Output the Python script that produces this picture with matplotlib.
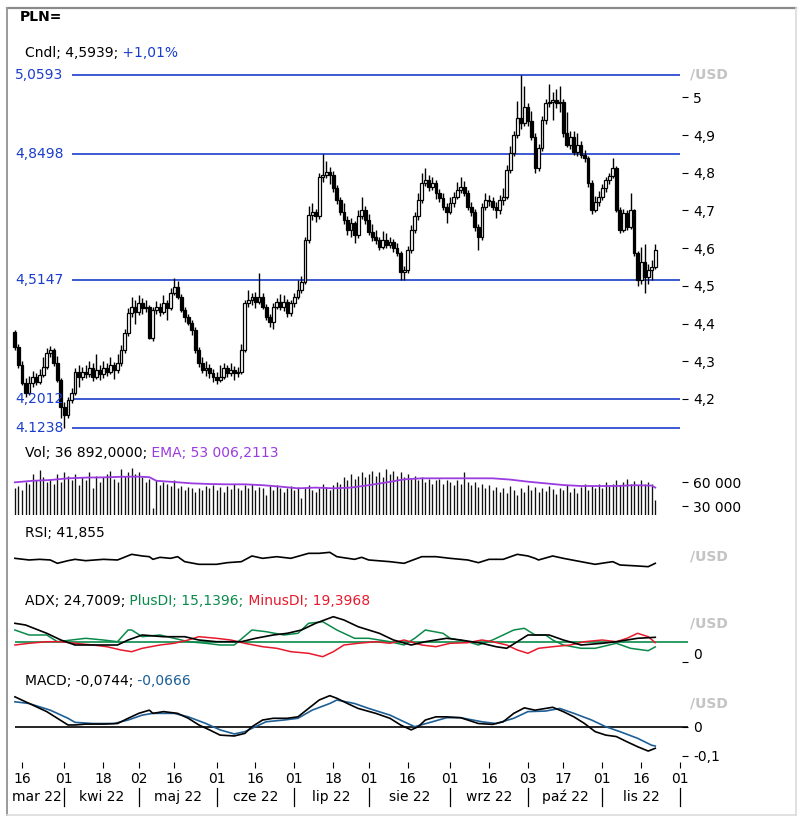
import numpy as np
import pandas as pd
import matplotlib
matplotlib.use("Agg")
import matplotlib.pyplot as plt
from matplotlib.transforms import blended_transform_factory
from matplotlib.lines import Line2D

plt.rcParams['font.family'] = ['DejaVu Sans']
plt.rcParams['font.size'] = 10

# ---------------- data ----------------
first_day = '2022-03-14'
axis_end_day = '2022-12-01'

open_ = [4.378, 4.338, 4.290, 4.242, 4.216, 4.242, 4.258, 4.245, 4.264, 4.285,
         4.322, 4.330, 4.295, 4.250, 4.179, 4.157, 4.197, 4.216, 4.272, 4.258,
         4.272, 4.266, 4.282, 4.258, 4.277, 4.266, 4.282, 4.272, 4.290, 4.277,
         4.295, 4.330, 4.375, 4.428, 4.444, 4.431, 4.454, 4.441, 4.444, 4.362,
         4.436, 4.444, 4.431, 4.454, 4.441, 4.481, 4.498, 4.471, 4.436, 4.418,
         4.401, 4.383, 4.330, 4.295, 4.277, 4.282, 4.268, 4.259, 4.250, 4.259,
         4.282, 4.268, 4.277, 4.268, 4.272, 4.330, 4.454, 4.462, 4.471, 4.458,
         4.471, 4.445, 4.418, 4.405, 4.445, 4.458, 4.445, 4.458, 4.427, 4.454,
         4.471, 4.489, 4.511, 4.622, 4.688, 4.697, 4.684, 4.790, 4.794, 4.803,
         4.795, 4.760, 4.728, 4.697, 4.675, 4.648, 4.666, 4.635, 4.684, 4.701,
         4.675, 4.644, 4.630, 4.622, 4.604, 4.622, 4.608, 4.617, 4.600, 4.586,
         4.538, 4.542, 4.595, 4.648, 4.684, 4.728, 4.772, 4.781, 4.763, 4.772,
         4.746, 4.732, 4.710, 4.697, 4.719, 4.737, 4.754, 4.763, 4.746, 4.710,
         4.697, 4.657, 4.630, 4.710, 4.728, 4.724, 4.710, 4.701, 4.728, 4.737,
         4.807, 4.852, 4.900, 4.944, 4.931, 4.975, 4.936, 4.896, 4.812, 4.865,
         4.940, 4.984, 4.989, 4.993, 4.984, 4.989, 4.905, 4.874, 4.896, 4.856,
         4.874, 4.847, 4.838, 4.772, 4.701, 4.723, 4.737, 4.759, 4.781, 4.792,
         4.812, 4.701, 4.648, 4.693, 4.657, 4.701, 4.586, 4.516, 4.564, 4.524,
         4.542, 4.551]

close = [4.338, 4.290, 4.242, 4.216, 4.242, 4.258, 4.245, 4.264, 4.285, 4.322,
         4.330, 4.295, 4.250, 4.179, 4.157, 4.197, 4.216, 4.272, 4.258, 4.272,
         4.266, 4.282, 4.258, 4.277, 4.266, 4.282, 4.272, 4.290, 4.277, 4.295,
         4.330, 4.375, 4.428, 4.444, 4.431, 4.454, 4.441, 4.444, 4.362, 4.436,
         4.444, 4.431, 4.454, 4.441, 4.481, 4.498, 4.471, 4.436, 4.418, 4.401,
         4.383, 4.330, 4.295, 4.277, 4.282, 4.268, 4.259, 4.250, 4.259, 4.282,
         4.268, 4.277, 4.268, 4.272, 4.330, 4.454, 4.462, 4.471, 4.458, 4.471,
         4.445, 4.418, 4.405, 4.445, 4.458, 4.445, 4.458, 4.427, 4.454, 4.471,
         4.489, 4.511, 4.622, 4.688, 4.697, 4.684, 4.790, 4.794, 4.803, 4.795,
         4.760, 4.728, 4.697, 4.675, 4.648, 4.666, 4.635, 4.684, 4.701, 4.675,
         4.644, 4.630, 4.622, 4.604, 4.622, 4.608, 4.617, 4.600, 4.586, 4.538,
         4.542, 4.595, 4.648, 4.684, 4.728, 4.772, 4.781, 4.763, 4.772, 4.746,
         4.732, 4.710, 4.697, 4.719, 4.737, 4.754, 4.763, 4.746, 4.710, 4.697,
         4.657, 4.630, 4.710, 4.728, 4.724, 4.710, 4.701, 4.728, 4.737, 4.807,
         4.852, 4.900, 4.944, 4.931, 4.975, 4.936, 4.896, 4.812, 4.865, 4.940,
         4.984, 4.989, 4.993, 4.984, 4.989, 4.905, 4.874, 4.896, 4.856, 4.874,
         4.847, 4.838, 4.772, 4.701, 4.723, 4.737, 4.759, 4.781, 4.792, 4.812,
         4.701, 4.648, 4.693, 4.657, 4.701, 4.586, 4.516, 4.564, 4.524, 4.542,
         4.551, 4.5939]

high = [4.383, 4.345, 4.300, 4.255, 4.262, 4.275, 4.270, 4.280, 4.310, 4.335,
        4.340, 4.336, 4.315, 4.256, 4.192, 4.205, 4.228, 4.282, 4.290, 4.285,
        4.290, 4.300, 4.295, 4.318, 4.290, 4.300, 4.295, 4.310, 4.298, 4.318,
        4.342, 4.385, 4.440, 4.470, 4.462, 4.475, 4.468, 4.462, 4.450, 4.445,
        4.460, 4.455, 4.475, 4.462, 4.495, 4.520, 4.512, 4.478, 4.445, 4.425,
        4.410, 4.392, 4.338, 4.312, 4.300, 4.292, 4.280, 4.272, 4.290, 4.295,
        4.290, 4.295, 4.288, 4.285, 4.345, 4.462, 4.490, 4.482, 4.485, 4.535,
        4.480, 4.452, 4.425, 4.455, 4.468, 4.478, 4.475, 4.465, 4.462, 4.482,
        4.515, 4.525, 4.630, 4.712, 4.720, 4.705, 4.800, 4.8498, 4.830, 4.815,
        4.805, 4.768, 4.735, 4.720, 4.685, 4.680, 4.672, 4.700, 4.735, 4.712,
        4.690, 4.665, 4.648, 4.630, 4.645, 4.640, 4.630, 4.625, 4.615, 4.592,
        4.552, 4.605, 4.662, 4.695, 4.745, 4.800, 4.812, 4.795, 4.790, 4.780,
        4.758, 4.745, 4.720, 4.735, 4.748, 4.775, 4.790, 4.778, 4.755, 4.722,
        4.705, 4.665, 4.720, 4.745, 4.740, 4.735, 4.722, 4.740, 4.760, 4.820,
        4.870, 4.912, 4.990, 5.0593, 5.030, 4.985, 4.965, 4.905, 4.875, 4.950,
        4.995, 5.035, 5.015, 5.022, 5.030, 4.995, 4.960, 4.910, 4.910, 4.905,
        4.885, 4.860, 4.845, 4.780, 4.738, 4.752, 4.770, 4.790, 4.800, 4.840,
        4.818, 4.710, 4.705, 4.700, 4.745, 4.705, 4.592, 4.602, 4.610, 4.558,
        4.568, 4.610]

low = [4.330, 4.282, 4.236, 4.205, 4.210, 4.232, 4.238, 4.240, 4.258, 4.280,
       4.312, 4.288, 4.245, 4.150, 4.1238, 4.150, 4.190, 4.210, 4.232, 4.250,
       4.255, 4.258, 4.248, 4.252, 4.250, 4.255, 4.262, 4.265, 4.252, 4.270,
       4.288, 4.322, 4.368, 4.418, 4.400, 4.422, 4.425, 4.430, 4.358, 4.355,
       4.425, 4.420, 4.425, 4.410, 4.435, 4.475, 4.465, 4.430, 4.405, 4.395,
       4.370, 4.322, 4.285, 4.268, 4.262, 4.255, 4.245, 4.240, 4.245, 4.252,
       4.258, 4.262, 4.250, 4.258, 4.265, 4.325, 4.445, 4.450, 4.440, 4.452,
       4.438, 4.410, 4.392, 4.385, 4.438, 4.435, 4.432, 4.418, 4.420, 4.445,
       4.465, 4.480, 4.505, 4.615, 4.675, 4.670, 4.678, 4.775, 4.785, 4.770,
       4.750, 4.718, 4.688, 4.665, 4.635, 4.630, 4.615, 4.628, 4.678, 4.665,
       4.635, 4.620, 4.610, 4.595, 4.598, 4.600, 4.600, 4.590, 4.578, 4.515,
       4.515, 4.535, 4.588, 4.640, 4.675, 4.720, 4.765, 4.752, 4.755, 4.730,
       4.722, 4.700, 4.668, 4.690, 4.710, 4.730, 4.745, 4.738, 4.700, 4.685,
       4.645, 4.595, 4.622, 4.700, 4.712, 4.700, 4.680, 4.690, 4.715, 4.730,
       4.800, 4.845, 4.892, 4.915, 4.925, 4.925, 4.888, 4.800, 4.805, 4.858,
       4.930, 4.975, 4.940, 4.972, 4.960, 4.895, 4.868, 4.862, 4.848, 4.845,
       4.838, 4.828, 4.762, 4.690, 4.695, 4.712, 4.728, 4.748, 4.770, 4.785,
       4.695, 4.640, 4.642, 4.648, 4.650, 4.578, 4.500, 4.505, 4.481, 4.505,
       4.515, 4.545]

volume = [52000, 55000, 50000, 60000, 58000, 70000, 62000, 75000, 66000, 60000,
          64000, 58000, 70000, 60000, 72000, 68000, 62000, 70000, 56000, 66000,
          62000, 72000, 52000, 68000, 60000, 66000, 70000, 74000, 64000, 60000,
          76000, 68000, 72000, 78000, 70000, 72000, 66000, 60000, 64000, 27000,
          62000, 56000, 60000, 58000, 55000, 62000, 52000, 55000, 50000, 54000,
          52000, 48000, 53000, 50000, 55000, 52000, 56000, 50000, 54000, 48000,
          55000, 51000, 57000, 53000, 50000, 56000, 52000, 58000, 50000, 54000,
          52000, 44000, 55000, 50000, 56000, 53000, 47000, 52000, 55000, 50000,
          54000, 40000, 52000, 56000, 50000, 48000, 52000, 58000, 54000, 50000,
          56000, 60000, 58000, 66000, 62000, 70000, 64000, 68000, 72000, 66000,
          70000, 74000, 68000, 72000, 66000, 76000, 70000, 74000, 68000, 72000,
          66000, 70000, 64000, 68000, 62000, 66000, 60000, 64000, 58000, 62000,
          64000, 58000, 62000, 60000, 56000, 62000, 58000, 72000, 60000, 56000,
          60000, 54000, 58000, 52000, 56000, 50000, 54000, 48000, 52000, 46000,
          55000, 50000, 44000, 52000, 48000, 56000, 50000, 54000, 47000, 52000,
          49000, 55000, 51000, 45000, 53000, 50000, 56000, 48000, 52000, 46000,
          54000, 58000, 50000, 55000, 52000, 57000, 53000, 60000, 55000, 58000,
          62000, 56000, 60000, 64000, 58000, 61000, 56000, 63000, 58000, 60000,
          57000, 36892]

ema_day = [0, 5, 10, 15, 20, 25, 30, 35, 38, 40, 45, 50, 55, 60, 65, 70, 75, 80, 85,
           90, 95, 100, 105, 110, 115, 120, 125, 130, 135, 140, 145, 150, 155, 160,
           165, 170, 175, 180, 181]
ema_val = [59600, 61500, 62500, 64600, 65500, 65800, 66500, 66700, 66000, 61500, 60000,
           58300, 57500, 57100, 57100, 56000, 54200, 52100, 53000, 52100, 53000, 56000,
           59500, 63300, 64600, 64600, 64600, 64600, 64600, 63000, 60400, 58300, 56200,
           55000, 55000, 55000, 56000, 55500, 53006.2113]

rsi_day = [0, 4, 7, 10, 12, 15, 17, 20, 25, 29, 33, 36, 38, 39, 41, 44, 46, 48, 52, 57,
           60, 64, 67, 70, 74, 78, 83, 86, 89, 91, 96, 98, 100, 106, 110, 115, 119, 123,
           128, 131, 134, 138, 142, 145, 147, 148, 152, 155, 160, 164, 167, 169, 171,
           176, 179, 181]
rsi_val = [51.8, 48.5, 49.8, 48.5, 41.8, 47.1, 49.8, 47.1, 49.8, 48.5, 59.8, 56.5, 55.1,
           49.8, 53.8, 51.8, 55.1, 45.1, 39.8, 39.8, 43.1, 45.1, 56.5, 51.8, 55.1, 51.8,
           61.8, 61.8, 63.8, 55.1, 49.8, 53.8, 48.5, 45.1, 41.8, 55.1, 55.1, 51.8, 48.5,
           43.1, 49.8, 49.8, 59.8, 56.5, 51.8, 48.5, 56.5, 51.8, 45.1, 39.8, 43.1, 45.1,
           38.5, 36.5, 35.1, 41.855]

adx_day = [0, 3, 9, 13, 17, 29, 32, 36, 42, 48, 52, 57, 64, 68, 73, 77, 81, 85, 90, 93,
           97, 103, 107, 112, 116, 122, 126, 132, 136, 139, 142, 145, 151, 155, 160, 166,
           170, 176, 181]
adx_val = [38.7, 37.0, 28.7, 22.0, 17.0, 17.0, 22.0, 27.0, 25.3, 25.3, 22.0, 20.3, 20.3,
           23.7, 27.0, 28.7, 32.0, 38.7, 45.3, 42.0, 35.3, 28.7, 22.0, 17.0, 20.3, 23.7,
           22.0, 18.7, 15.3, 13.7, 20.3, 27.0, 27.0, 22.0, 17.0, 18.7, 20.3, 23.7, 24.7009]

pdi_day = [0, 4, 9, 12, 16, 20, 25, 29, 32, 33, 36, 41, 45, 49, 54, 58, 62, 67, 71, 76,
           80, 83, 87, 91, 96, 100, 106, 110, 113, 116, 121, 123, 128, 131, 135, 138,
           141, 144, 147, 150, 152, 155, 160, 164, 170, 174, 179, 181]
pdi_val = [32.0, 27.0, 27.0, 20.3, 22.0, 23.7, 22.0, 20.3, 32.0, 32.0, 25.3, 27.0, 23.7,
           20.3, 18.7, 17.0, 17.0, 32.0, 30.3, 27.0, 28.7, 38.7, 40.3, 32.0, 23.7, 23.7,
           20.3, 17.0, 23.7, 32.0, 28.7, 23.7, 20.3, 17.0, 22.0, 27.0, 32.0, 33.7, 27.0,
           27.0, 22.0, 17.0, 13.7, 13.7, 18.7, 13.7, 11.3, 15.1396]

mdi_day = [0, 4, 9, 13, 17, 22, 26, 30, 33, 36, 41, 45, 49, 52, 57, 61, 65, 70, 74, 78,
           83, 87, 90, 93, 97, 102, 106, 110, 115, 119, 123, 128, 132, 135, 139, 142,
           145, 148, 152, 157, 161, 166, 170, 173, 176, 179, 181]
mdi_val = [17.0, 18.7, 20.3, 20.3, 18.7, 17.0, 15.3, 12.0, 10.3, 13.7, 17.0, 18.7, 22.0,
           25.3, 23.7, 22.0, 18.7, 15.3, 13.7, 10.3, 8.7, 5.3, 10.3, 17.0, 18.7, 20.3,
           18.7, 22.0, 17.0, 15.3, 18.7, 19.3, 22.0, 20.3, 17.0, 12.0, 8.7, 13.7, 15.3,
           17.0, 20.3, 22.0, 20.3, 23.7, 28.7, 25.3, 19.3968]

macd_day = [0, 3, 6, 9, 12, 15, 17, 20, 25, 29, 32, 35, 38, 39, 42, 46, 49, 52, 55, 58,
            62, 65, 67, 70, 73, 77, 80, 83, 86, 89, 91, 94, 97, 102, 106, 109, 112, 114,
            116, 119, 122, 126, 131, 135, 138, 141, 144, 147, 150, 152, 155, 158, 161,
            164, 167, 170, 173, 176, 179, 181]
macd_val = [0.103, 0.086, 0.069, 0.052, 0.029, 0.006, 0.006, 0.009, 0.009, 0.011, 0.029,
            0.046, 0.057, 0.046, 0.052, 0.046, 0.029, 0.006, -0.011, -0.029, -0.032,
            -0.023, 0.000, 0.023, 0.029, 0.029, 0.034, 0.063, 0.092, 0.107, 0.098, 0.080,
            0.063, 0.046, 0.029, 0.006, -0.011, 0.000, 0.023, 0.034, 0.034, 0.031, 0.011,
            0.008, 0.017, 0.046, 0.065, 0.057, 0.063, 0.067, 0.052, 0.034, 0.011, -0.017,
            -0.029, -0.034, -0.052, -0.069, -0.084, -0.0744]

sig_day = [0, 4, 10, 15, 17, 22, 28, 32, 36, 39, 45, 49, 54, 58, 62, 65, 68, 71, 76, 80,
           84, 89, 91, 96, 100, 106, 110, 113, 118, 122, 126, 132, 136, 141, 145, 150,
           154, 158, 163, 167, 171, 176, 180, 181]
sig_val = [0.086, 0.080, 0.057, 0.029, 0.015, 0.011, 0.011, 0.023, 0.040, 0.046, 0.046,
           0.034, 0.011, -0.011, -0.025, -0.017, 0.000, 0.017, 0.023, 0.029, 0.057, 0.080,
           0.092, 0.080, 0.063, 0.040, 0.017, 0.000, 0.017, 0.031, 0.031, 0.017, 0.011,
           0.029, 0.052, 0.054, 0.063, 0.046, 0.023, 0.000, -0.017, -0.040, -0.064,
           -0.0666]

levels = [5.0593, 4.8498, 4.5147, 4.2012, 4.1238]
level_labels = ['5,0593', '4,8498', '4,5147', '4,2012', '4.1238']

price_ticks = [4.2, 4.3, 4.4, 4.5, 4.6, 4.7, 4.8, 4.9, 5.0]
price_tick_labels = ['4,2', '4,3', '4,4', '4,5', '4,6', '4,7', '4,8', '4,9', '5']
vol_ticks = [30000, 60000]
vol_tick_labels = ['30 000', '60 000']
adx_ref = 20
macd_ticks = [-0.1, 0.0]
macd_tick_labels = ['-0,1', '0']

tick_dates = ['2022-03-16', '2022-04-01', '2022-04-18', '2022-05-02', '2022-05-16',
              '2022-06-01', '2022-06-16', '2022-07-01', '2022-07-18', '2022-08-01',
              '2022-08-16', '2022-09-01', '2022-09-16', '2022-10-03', '2022-10-17',
              '2022-11-01', '2022-11-16', '2022-12-01']
tick_labels = ['16', '01', '18', '02', '16', '01', '16', '01', '18', '01', '16', '01',
               '16', '03', '17', '01', '16', '01']
month_names = ['mar 22', 'kwi 22', 'maj 22', 'cze 22', 'lip 22', 'sie 22', 'wrz 22',
               'paź 22', 'lis 22']

title = 'PLN='
cndl_text = ['Cndl; 4,5939;', ' +1,01%']
vol_text = ['Vol; 36 892,0000;', ' EMA; 53 006,2113']
rsi_text = ['RSI; 41,855']
adx_text = ['ADX; 24,7009;', ' PlusDI; 15,1396;', ' MinusDI; 19,3968']
macd_text = ['MACD; -0,0744;', ' -0,0666']

# ---------------- colours ----------------
BLUE = '#1a3dcc'
PURPLE = '#9b3ce0'
GREEN = '#0a8a4a'
RED = '#e8192c'
SIGBLUE = '#1d5f96'
GREY = '#c4c4c4'

# ---------------- figure ----------------
days_all = pd.bdate_range(first_day, axis_end_day)
n = len(close)
xd = np.arange(n)
W, H = 802, 821
fig = plt.figure(figsize=(W / 100, H / 100), dpi=100)
fig.patch.set_facecolor('white')


def box(x0, y0, x1, y1):
    return [x0 / W, 1 - y1 / H, (x1 - x0) / W, (y1 - y0) / H]


def fx(p):
    return p / W


def fy(p):
    return 1 - p / H


XL = (-1.385, 188.55)


def style(ax, ylim):
    ax.set_xlim(*XL)
    ax.set_ylim(*ylim)
    for s in ax.spines.values():
        s.set_visible(False)
    ax.set_xticks([])
    ax.yaxis.tick_right()
    ax.tick_params(axis='y', direction='out', length=4, width=0.8, pad=4,
                   labelsize=10, colors='black')
    ax.patch.set_alpha(0)


def multi_text(xp, yp, parts, colors, weight='normal'):
    t = fig.text(fx(xp), fy(yp), parts[0], color=colors[0], ha='left', va='center',
                 fontsize=10, fontweight=weight)
    prev = t
    for s, c in zip(parts[1:], colors[1:]):
        prev = ax_p.annotate(s, xy=(1, 0), xycoords=prev, ha='left', va='bottom',
                             color=c, fontsize=10, annotation_clip=False)
    return t


# main price panel
ax_p = fig.add_axes(box(10, 70, 682, 433))
style(ax_p, (4.1097, 5.07256))
ax_p.set_yticks(price_ticks, price_tick_labels)
o = np.array(open_)
c = np.array(close)
ax_p.vlines(xd, low, high, color='black', lw=1.0, zorder=2)
body_bottom = np.minimum(o, c)
body_h = np.maximum(np.abs(c - o), 0.002)
body_col = ['white' if cc >= oo else 'black' for oo, cc in zip(o, c)]
ax_p.bar(xd, body_h, width=0.8, bottom=body_bottom, color=body_col,
         edgecolor='black', linewidth=0.9, zorder=3)
ax_p.hlines(levels, (72 - 10) / 672, (680 - 10) / 672, transform=ax_p.get_yaxis_transform(),
            color=BLUE, lw=1.2, zorder=1, clip_on=False)
for lv, lab in zip(levels, level_labels):
    ax_p.text((15 - 10) / 672, lv, lab, transform=ax_p.get_yaxis_transform(), color=BLUE,
              fontsize=10, ha='left', va='center', zorder=4, clip_on=False)

# volume panel
ax_v = fig.add_axes(box(10, 462, 682, 515))
style(ax_v, (18750, 85000))
ax_v.set_yticks(vol_ticks, vol_tick_labels)
ax_v.vlines(xd, 0, volume, color='#111111', lw=0.95)
ax_v.plot(ema_day, ema_val, color=PURPLE, lw=1.3)

# RSI panel
ax_r = fig.add_axes(box(10, 540, 682, 590))
style(ax_r, (-11.545, 88.455))
ax_r.set_yticks([])
ax_r.plot(rsi_day, rsi_val, color='black', lw=1.2)

# ADX panel
ax_a = fig.add_axes(box(10, 608, 682, 662))
style(ax_a, (0, 54))
ax_a.set_yticks([0], ['0'], va='bottom')
ax_a.hlines(adx_ref, (15 - 10) / 672, (688 - 10) / 672, transform=ax_a.get_yaxis_transform(),
            color=GREEN, lw=1.2, clip_on=False)
ax_a.plot(pdi_day, pdi_val, color=GREEN, lw=1.1)
ax_a.plot(mdi_day, mdi_val, color=RED, lw=1.1)
ax_a.plot(adx_day, adx_val, color='black', lw=1.2)

# MACD panel
ax_m = fig.add_axes(box(10, 688, 682, 762))
style(ax_m, (-0.12172, 0.13345))
ax_m.set_yticks(macd_ticks, macd_tick_labels)
ax_m.hlines(0, (15 - 10) / 672, (688 - 10) / 672, transform=ax_m.get_yaxis_transform(),
            color='black', lw=1.2, clip_on=False)
ax_m.plot(sig_day, sig_val, color=SIGBLUE, lw=1.2)
ax_m.plot(macd_day, macd_val, color='black', lw=1.2)

# x axis
tick_pos = [days_all.get_loc(pd.Timestamp(d)) for d in tick_dates]
ax_m.set_xticks(tick_pos, tick_labels)
ax_m.tick_params(axis='x', direction='out', length=4, width=0.8, pad=3, labelsize=10)
months = days_all.to_period('M')
sep_pos = [i for i in range(1, len(days_all)) if months[i] != months[i - 1]]
trans = blended_transform_factory(ax_m.transData, fig.transFigure)
for sp in sep_pos:
    ax_m.add_line(Line2D([sp, sp], [fy(788), fy(806)], transform=trans, color='black',
                         lw=0.9, clip_on=False))
bounds = [XL[0]] + sep_pos
for k, name in enumerate(month_names):
    xc = (bounds[k] + bounds[k + 1]) / 2
    ax_m.text(xc, fy(797), name, transform=trans, ha='center', va='center', fontsize=10,
              clip_on=False)

# panel labels
fig.text(fx(20), fy(17), title, fontsize=10, fontweight='bold', ha='left', va='center')
multi_text(25, 53, cndl_text, ['black', BLUE])
multi_text(25, 453, vol_text, ['black', PURPLE])
multi_text(25, 533, rsi_text, ['black'])
multi_text(25, 601, adx_text, ['black', GREEN, RED])
multi_text(25, 681, macd_text, ['black', SIGBLUE])
for yy in [75, 556, 623, 703]:
    fig.text(fx(690), fy(yy), '/USD', color=GREY, fontsize=10, fontweight='bold',
             ha='left', va='center')

# frame
fig.add_artist(Line2D([fx(7), fx(796)], [fy(8), fy(8)], color='#8a8a8a', lw=1.6))
fig.add_artist(Line2D([fx(7), fx(7)], [fy(8), fy(815)], color='#9a9a9a', lw=1.4))
fig.add_artist(Line2D([fx(796), fx(796)], [fy(8), fy(815)], color='#dcdcdc', lw=1.2))
fig.add_artist(Line2D([fx(7), fx(796)], [fy(815), fy(815)], color='#dcdcdc', lw=1.2))

fig.savefig('out.png', dpi=100, facecolor='white')
